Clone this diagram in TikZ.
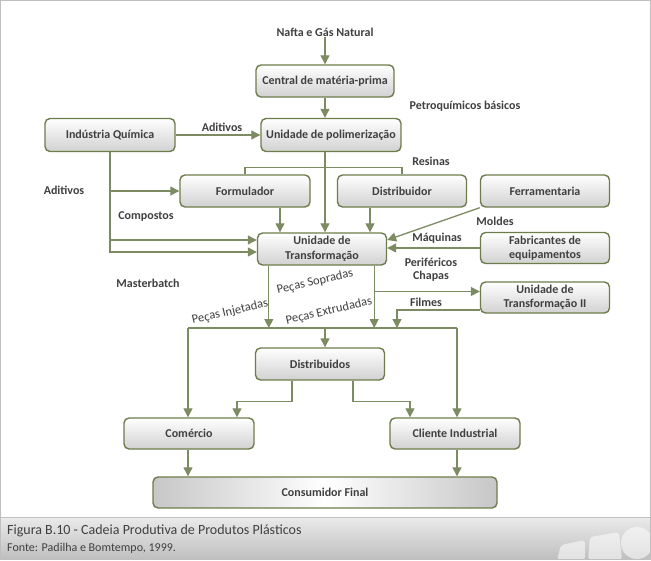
\documentclass[tikz,border=0pt]{standalone}
\usepackage{fontspec}
\setmainfont{Carlito}
\usetikzlibrary{arrows.meta,calc}
\definecolor{ol}{HTML}{7D8B62}
\definecolor{olb}{HTML}{6E7C4C}
\definecolor{txt}{HTML}{404040}
\begin{document}
\begin{tikzpicture}[x=1pt,y=-1pt,
  box/.style={draw=olb, line width=1.4pt, rounded corners=5pt, top color=white, bottom color=black!18,
    minimum width=#1, minimum height=32pt, inner sep=0pt, align=center,
    font=\bfseries\fontsize{12}{14.5}\selectfont, text=txt},
  box/.default=130pt,
  lbl/.style={font=\bfseries\fontsize{12}{13}\selectfont, text=txt, inner sep=1pt},
  rlbl/.style={font=\fontsize{12.5}{14}\selectfont, text=txt, rotate=13, inner sep=0pt},
  arr/.style={draw=ol, line width=1.3pt, -{Triangle[width=9pt,length=9pt]}},
  ln/.style={draw=ol, line width=1.3pt}]
\useasboundingbox (0,0) rectangle (651,560);
\fill[white] (0,0) rectangle (651,560);
% caption band
\fill[top color=black!8, bottom color=black!25] (1,517) rectangle (650,559);
\draw[black!25, line width=0.8pt] (1,517) -- (650,517);
\begin{scope}
\clip (1,517) rectangle (650,559);
\fill[white, opacity=.55, rounded corners=3pt] (557,560) -- (561,545) -- (585,540) -- (585,560) -- cycle;
\fill[white, opacity=.55, rounded corners=3pt] (588,560) -- (590,537) -- (619,532) -- (622,560) -- cycle;
\fill[white, opacity=.55] (637,543) circle (16);
\end{scope}
\draw[black!25, line width=1pt] (0.5,0.5) rectangle (650.5,559.5);
\node[anchor=west, font=\fontsize{14}{16}\selectfont, text=txt, inner sep=0pt] (cap) at (7,531) {Figura B.10 - Cadeia Produtiva de Produtos Plásticos};
\node[anchor=west, font=\fontsize{12}{14}\selectfont, text=txt, inner sep=0pt] (fonte) at (7,548) {Fonte: Padilha e Bomtempo, 1999.};

% nodes
\node[lbl] (nafta) at (325,32) {Nafta e Gás Natural};
\node[box=138pt] (central) at (325,81) {Central de matéria-prima};
\node[box=140pt, minimum height=33pt] (polim) at (331,135) {Unidade de polimerização};
\node[box=130pt, minimum height=33pt] (quim) at (110,135) {Indústria Química};
\node[box] (form) at (245,191) {Formulador};
\node[box=129pt] (distr) at (402,191) {Distribuidor};
\node[box=129pt] (ferr) at (545,191) {Ferramentaria};
\node[box=129pt] (trans) at (322,249) {Unidade de\\Transformação};
\node[box=129pt, minimum height=31pt] (fab) at (545,248) {Fabricantes de\\equipamentos};
\node[box=129pt, minimum height=31pt] (trans2) at (545,297.5) {Unidade de\\Transformação II};
\node[box=129pt] (distos) at (320,364) {Distribuidos};
\node[box, minimum height=31pt] (com) at (189,433.5) {Comércio};
\node[box, minimum height=31pt] (cli) at (455,433.5) {Cliente Industrial};
\node[box=344pt, minimum height=31pt, left color=black!22, right color=black!22, middle color=white] (cons) at (325,492.5) {Consumidor Final};

% labels
\node[lbl] (petro) at (465,106) {Petroquímicos básicos};
\node[lbl] (adit1) at (222,127) {Aditivos};
\node[lbl] (resin) at (431,161) {Resinas};
\node[lbl] (adit2) at (64,190) {Aditivos};
\node[lbl] (compo) at (146,217) {Compostos};
\node[lbl] (molde) at (495,221) {Moldes};
\node[lbl] (maqui) at (437,238) {Máquinas};
\node[lbl] (perif) at (431,262) {Periféricos};
\node[lbl] (chapa) at (431,276) {Chapas};
\node[lbl] (maste) at (148,283) {Masterbatch};
\node[lbl] (filme) at (426,302) {Filmes};
\node[rlbl] (pinj) at (230,312) {Peças Injetadas};
\node[rlbl] (psop) at (315,282) {Peças Sopradas};
\node[rlbl] (pext) at (329,311) {Peças Extrudadas};

% helper coordinates
\coordinate (bl) at (188,328);
\coordinate (br) at (457,328);
\coordinate (fdrop) at (397,328);
\coordinate (fo) at ([xshift=35pt]form.south);
\coordinate (do) at ([xshift=-32pt]distr.south);
\coordinate (ti1) at ([yshift=9pt]trans.west);
\coordinate (ti2) at ([yshift=-3pt]trans.west);
\coordinate (te1) at ([yshift=9pt]trans.east);
\coordinate (tol) at ([xshift=12pt]trans.south west);
\coordinate (tor) at ([xshift=-13pt]trans.south east);
\coordinate (t2i) at ([yshift=6pt]trans2.west);
\coordinate (t2o) at ([yshift=-12.5pt]trans2.west);
\coordinate (dm) at ([xshift=5pt]distos.north);
\coordinate (dl) at ([xshift=-28pt]distos.south);
\coordinate (dr) at ([xshift=33pt]distos.south);
\coordinate (cl) at ([xshift=48pt]com.north);
\coordinate (cr) at ([xshift=-45pt]cli.north);

% connectors
\draw[arr] (nafta) -- (central);
\draw[arr] (central.south) -- (central.south |- polim.north);
\draw[arr] (quim) -- (polim);
\draw[arr] (central.south |- polim.south) -- (central.south |- trans.north);
\draw[ln] (form.north) -- ++(0,-7) -| (distr.north);
\draw[arr] (fo) -- (fo |- trans.north);
\draw[arr] (do) -- (do |- trans.north);
\draw[arr] (quim.south) |- (ti2);
\draw[arr] (quim.south |- ti1) -- (ti1);
\draw[arr] (quim.south |- form.west) -- (form.west);
\draw[arr] (ferr.south west) -- (te1);
\draw[arr] (fab.west) -- (fab.west -| trans.east);
\draw[arr] (tol) -- (tol |- bl);
\draw[arr] (tor) -- (tor |- bl);
\draw[arr] (tor |- t2i) -- (t2i);
\draw[arr] (t2o) -| (fdrop);
\draw[ln] (bl) -- (br);
\draw[arr] (bl) -- (bl |- com.north);
\draw[arr] (br) -- (br |- cli.north);
\draw[arr] (dm |- bl) -- (dm);
\draw[arr] (dl) -- ++(0,21) -| (cl);
\draw[arr] (dr) -- ++(0,21) -| (cr);
\draw[arr] (com.south -| bl) -- (bl |- cons.north);
\draw[arr] (cli.south -| br) -- (br |- cons.north);
\end{tikzpicture}
\end{document}
